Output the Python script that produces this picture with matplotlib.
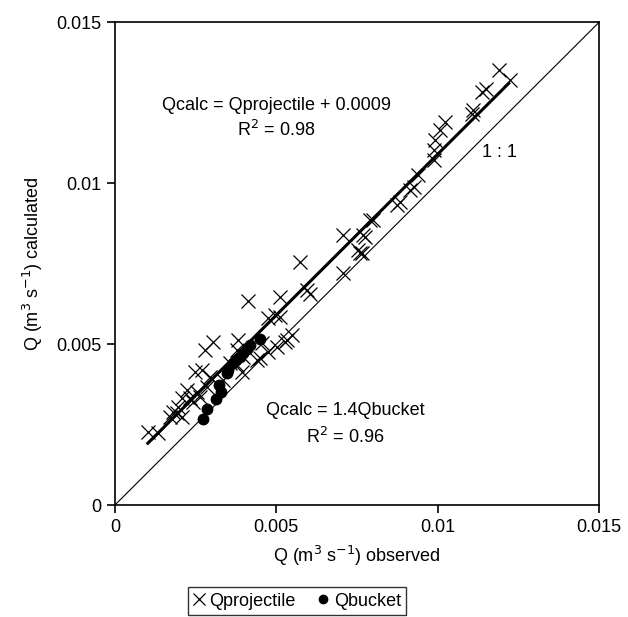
import matplotlib.pyplot as plt
import numpy as np

plt.rcParams["font.family"] = ["Liberation Sans", "DejaVu Sans"]

# Qprojectile (observed, calculated)
proj_obs = [0.01191, 0.01224, 0.0115, 0.01136, 0.0111, 0.01105, 0.01023, 0.01007,
            0.00992, 0.00987, 0.00987, 0.0094, 0.00925, 0.00914, 0.00883, 0.00873,
            0.0080, 0.00775, 0.00759, 0.0079, 0.00708, 0.0077, 0.00754, 0.00765,
            0.00708, 0.00573, 0.00594, 0.00604, 0.00511, 0.00511, 0.00548, 0.00532,
            0.00413, 0.00475, 0.00496, 0.00527, 0.00501, 0.00475, 0.00449, 0.00439,
            0.00393, 0.00382, 0.00305, 0.00279, 0.00269, 0.00248, 0.00294, 0.00336,
            0.00222, 0.00253, 0.00207, 0.00232, 0.00196, 0.00181, 0.00191, 0.00207,
            0.0017, 0.00243, 0.00263, 0.00284, 0.00103, 0.00134, 0.00398, 0.00377,
            0.00356, 0.00455, 0.00377]
proj_calc = [0.01353, 0.0132, 0.01294, 0.01284, 0.01227, 0.01216, 0.0119, 0.01165,
             0.01134, 0.01102, 0.01071, 0.01025, 0.00989, 0.00978, 0.00942, 0.00932,
             0.00885, 0.00833, 0.00783, 0.00885, 0.00839, 0.00839, 0.00792, 0.00782,
             0.0072, 0.00756, 0.00668, 0.00657, 0.00647, 0.00585, 0.00528, 0.00512,
             0.00634, 0.0058, 0.0059, 0.00507, 0.00492, 0.00476, 0.00456, 0.0045,
             0.00414, 0.00512, 0.00507, 0.00481, 0.00419, 0.00414, 0.00398, 0.00388,
             0.00357, 0.00352, 0.00331, 0.00331, 0.00305, 0.0029, 0.00285, 0.00274,
             0.00274, 0.00321, 0.00336, 0.00367, 0.00228, 0.00223, 0.00461, 0.00435,
             0.0044, 0.00502, 0.00481]

# Qbucket (observed, calculated)
bucket_obs = [0.00272, 0.00284, 0.00313, 0.00329, 0.00323, 0.00348, 0.00351,
              0.00367, 0.00375, 0.00387, 0.00398, 0.00408, 0.00418, 0.00449]
bucket_calc = [0.00266, 0.00297, 0.00328, 0.00352, 0.00373, 0.00409, 0.00421,
               0.0044, 0.0045, 0.00461, 0.00471, 0.00484, 0.00497, 0.00515]

fit_x = np.array([0.00102, 0.0122])
fit_offset = 0.0009

fig = plt.figure(figsize=(6.28, 6.17), dpi=100)
ax = fig.add_axes([0.183, 0.1815, 0.771, 0.7825])

ax.plot([0, 0.015], [0, 0.015], color="black", lw=0.8)
ax.plot(fit_x, fit_x + fit_offset, color="black", lw=2.2)
ax.plot(proj_obs, proj_calc, ls="none", marker="x", ms=10, mew=0.9,
        color="black", label="Qprojectile")
ax.plot(bucket_obs, bucket_calc, ls="none", marker="o", ms=7.5,
        color="black", label="Qbucket")

ax.set_xlim(0, 0.015)
ax.set_ylim(0, 0.015)
ax.set_xticks([0, 0.005, 0.01, 0.015])
ax.set_yticks([0, 0.005, 0.01, 0.015])
ax.set_xticklabels(["0", "0.005", "0.01", "0.015"])
ax.set_yticklabels(["0", "0.005", "0.01", "0.015"])
ax.tick_params(direction="out", length=6, width=1.2, labelsize=13, pad=4)
for s in ax.spines.values():
    s.set_linewidth(1.2)

ax.set_xlabel("Q (m$^3$ s$^{-1}$) observed", fontsize=13, labelpad=6)
ax.set_ylabel("Q (m$^3$ s$^{-1}$) calculated", fontsize=13, labelpad=8)

ax.text(0.005, 0.01242, "Qcalc = Qprojectile + 0.0009", ha="center", va="center", fontsize=13)
ax.text(0.005, 0.01165, "R$^2$ = 0.98", ha="center", va="center", fontsize=13)
ax.text(0.0119, 0.01096, "1 : 1", ha="center", va="center", fontsize=13)
ax.text(0.00713, 0.00295, "Qcalc = 1.4Qbucket", ha="center", va="center", fontsize=13)
ax.text(0.00713, 0.00211, "R$^2$ = 0.96", ha="center", va="center", fontsize=13)

leg = fig.legend(loc="upper center", bbox_to_anchor=(0.473, 0.048), ncol=2,
                 fontsize=13, frameon=True, fancybox=False, edgecolor="black",
                 handlelength=0.6, handletextpad=0.3, columnspacing=1.2,
                 borderpad=0.3, borderaxespad=0, markerscale=0.8)
leg.get_frame().set_linewidth(1.0)

fig.savefig("out.png", dpi=100)
